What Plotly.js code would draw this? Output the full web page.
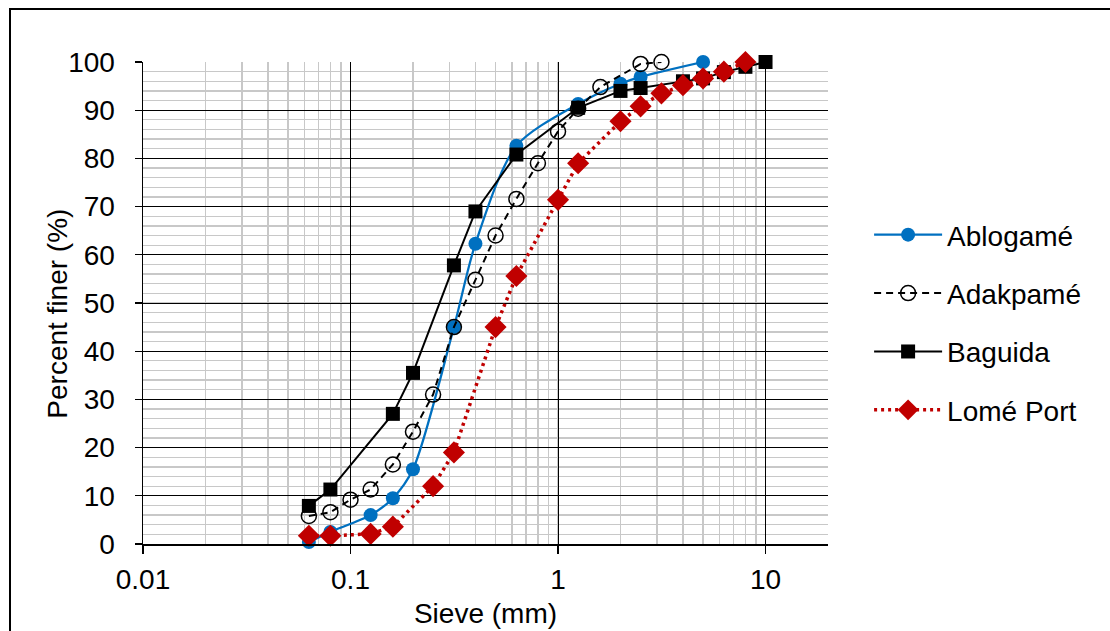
<!DOCTYPE html>
<html>
<head>
<meta charset="utf-8">
<script src="https://cdn.plot.ly/plotly-3.0.1.min.js"></script>
<style>
  html, body { margin: 0; padding: 0; background: #fff; overflow: hidden; }
  #chart { width: 1110px; height: 631px; }
  #frame { position: absolute; left: 9px; top: 8px; width: 1200px; height: 700px;
           border-left: 2px solid #000; border-top: 2px solid #000; pointer-events: none; }
</style>
</head>
<body>
<div id="chart"></div>
<div id="frame"></div>
<script>
// Sieve sizes (mm) and percent finer for each site
const ablogameSieve = [0.063, 0.08, 0.125, 0.16, 0.2, 0.315, 0.4, 0.63, 1.25, 2, 2.5, 5];
const ablogameFiner = [0.4, 2.5, 6.0, 9.5, 15.5, 45.0, 62.3, 82.6, 91.3, 95.5, 96.9, 100];

const adakpameSieve = [0.063, 0.08, 0.1, 0.125, 0.16, 0.2, 0.25, 0.315, 0.4, 0.5, 0.63, 0.8, 1, 1.25, 1.6, 2.5, 3.15];
const adakpameFiner = [5.8, 6.6, 9.2, 11.3, 16.5, 23.3, 31.0, 45.0, 54.8, 64.0, 71.6, 79.0, 85.6, 90.3, 94.8, 99.6, 100];

const baguidaSieve = [0.063, 0.08, 0.16, 0.2, 0.315, 0.4, 0.63, 1.25, 2, 2.5, 4, 5, 6.3, 8, 10];
const baguidaFiner = [7.9, 11.3, 27.0, 35.5, 57.8, 69.0, 80.8, 90.5, 94.0, 94.6, 96.0, 96.6, 97.9, 99.0, 100];

const lomeSieve = [0.063, 0.08, 0.125, 0.16, 0.25, 0.315, 0.5, 0.63, 1, 1.25, 2, 2.5, 3.15, 4, 5, 6.3, 8];
const lomeFiner = [1.7, 1.7, 2.1, 3.6, 12.0, 19.0, 45.0, 55.6, 71.4, 79.0, 87.7, 90.8, 93.5, 95.2, 96.6, 98.0, 100];

const seriesNames = ["Ablogamé", "Adakpamé", "Baguida", "Lomé Port"];
const yTickVals = [0, 10, 20, 30, 40, 50, 60, 70, 80, 90, 100];
const xTickVals = [0.01, 0.1, 1, 10];
const xTickText = ["0.01", "0.1", "1", "10"];
const yTitle = "Percent finer (%)";
const xTitle = "Sieve (mm)";

const FONT = "Liberation Sans, Arial, sans-serif";

const traces = [
  {
    x: ablogameSieve, y: ablogameFiner, name: seriesNames[0], type: "scatter", mode: "lines+markers",
    legendgroup: "a", cliponaxis: false,
    line: { color: "#0070C0", width: 2.25, shape: "spline", smoothing: 0.8 },
    marker: { symbol: "circle", size: 14, color: "#0070C0" }
  },
  {
    x: adakpameSieve, y: adakpameFiner, name: seriesNames[1], type: "scatter", mode: "lines+markers",
    legendgroup: "b", cliponaxis: false,
    line: { color: "#000000", width: 2, dash: "7px,5px" },
    marker: { symbol: "circle-open", size: 15, color: "#000000", line: { width: 1.5, color: "#000000" } }
  },
  {
    x: baguidaSieve, y: baguidaFiner, name: seriesNames[2], type: "scatter", mode: "lines+markers",
    legendgroup: "c", cliponaxis: false,
    line: { color: "#000000", width: 2 },
    marker: { symbol: "square", size: 14, color: "#000000" }
  },
  {
    x: lomeSieve, y: lomeFiner, name: seriesNames[3], type: "scatter", mode: "lines+markers",
    legendgroup: "d", cliponaxis: false,
    line: { color: "#C00000", width: 3.5, dash: "3px,4px" },
    marker: { symbol: "diamond", size: 17, color: "#C00000" }
  }
];

const layout = {
  width: 1110, height: 631,
  paper_bgcolor: "#ffffff", plot_bgcolor: "#ffffff",
  margin: { l: 143, r: 282, t: 62, b: 87, pad: 0 },
  font: { family: FONT, size: 28, color: "#000" },
  showlegend: true,
  legend: {
    x: 1.06, xanchor: "left", y: 0.693, yanchor: "top",
    itemwidth: 68, tracegroupgap: 19,
    font: { family: FONT, size: 28, color: "#000" },
    bgcolor: "rgba(0,0,0,0)"
  },
  xaxis: {
    type: "log",
    range: [-2, Math.log10(20)],
    tickvals: xTickVals,
    ticktext: xTickText,
    ticks: "outside", ticklen: 8, tickwidth: 1.3, tickcolor: "#000",
    ticklabelstandoff: 2,
    showline: true, linecolor: "#000", linewidth: 1.5,
    showgrid: true, gridcolor: "#000", gridwidth: 1,
    minor: { showgrid: true, dtick: "D1", gridcolor: "#C8C8C8", gridwidth: 1.3 },
    zeroline: false,
    tickfont: { family: FONT, size: 28, color: "#000" },
    title: { text: xTitle, font: { family: FONT, size: 28, color: "#000" }, standoff: 9 }
  },
  yaxis: {
    range: [0, 100],
    tickvals: yTickVals,
    ticks: "outside", ticklen: 7, tickwidth: 1.3, tickcolor: "#000",
    ticklabelstandoff: 14,
    showline: true, linecolor: "#000", linewidth: 1.5,
    showgrid: true, gridcolor: "#000", gridwidth: 1,
    minor: { showgrid: true, dtick: 2, gridcolor: "#C8C8C8", gridwidth: 1.3 },
    zeroline: false,
    tickfont: { family: FONT, size: 28, color: "#000" },
    title: { text: "" }
  },
  annotations: [
    {
      text: yTitle, textangle: -90, showarrow: false,
      xref: "paper", yref: "paper", x: -0.124, y: 0.478,
      xanchor: "center", yanchor: "middle",
      font: { family: FONT, size: 28, color: "#000" }
    }
  ]
};

Plotly.newPlot("chart", traces, layout, { staticPlot: true, displayModeBar: false });
</script>
</body>
</html>
